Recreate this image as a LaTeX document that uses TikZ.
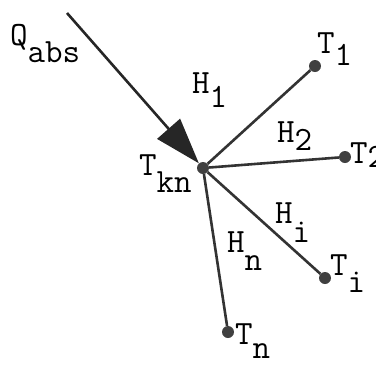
\documentclass[tikz,border=0pt]{standalone}
\usepackage{fontspec}
\usepackage{tikz}
\usetikzlibrary{arrows.meta}
\newcommand{\lab}[3][.6em]{#2\raisebox{-#1}{#3}}

\begin{document}
\begin{tikzpicture}[x=1pt,y=-1pt,>=Stealth,
  dot/.style={circle,fill=black!75,inner sep=0pt,minimum size=12pt},
  bond/.style={draw=black!80,line width=2.6pt},
  heat/.style={-{Triangle[length=46pt,width=30pt]},black!85,line width=2.6pt},
  txt/.style={anchor=base west,inner sep=0pt,font=\ttfamily\fontsize{34}{34}\selectfont}]
 \useasboundingbox (0,0) rectangle (376,368);
 \node[dot] (kn) at (203,168) {};
 \node[dot] (t1) at (315,66) {};
 \node[dot] (t2) at (345,157) {};
 \node[dot] (ti) at (325,278) {};
 \node[dot] (tn) at (228,332) {};
 \coordinate (qs) at (67,13);
 \draw[bond] (kn) -- (t1);
 \draw[bond] (kn) -- (t2);
 \draw[bond] (kn) -- (ti);
 \draw[bond] (kn) -- (tn);
 \draw[heat] (qs) -- (kn);
 % labels
 \node[txt] (lq) at (10,45) {\lab[.5em]{Q}{abs}};
 \node[txt] (lkn) at (139,175) {\lab[.5em]{T}{kn}};
 \node[txt] (lh1) at (192,93) {\lab[.42em]{H}{1}};
 \node[txt] (lt1) at (317,53) {\lab[.36em]{T}{1}};
 \node[txt] (lh2) at (277,142) {\lab[.25em]{H}{2}};
 \node[txt] (lt2) at (350,163) {\lab[.12em]{T}{2}};
 \node[txt] (lhi) at (275,223) {\lab[.56em]{H}{i}};
 \node[txt] (lti) at (330,275) {\lab[.5em]{T}{i}};
 \node[txt] (lhn) at (227,252) {\lab[.55em]{H}{n}};
 \node[txt] (ltn) at (235,344) {\lab[.42em]{T}{n}};
\end{tikzpicture}
\end{document}
